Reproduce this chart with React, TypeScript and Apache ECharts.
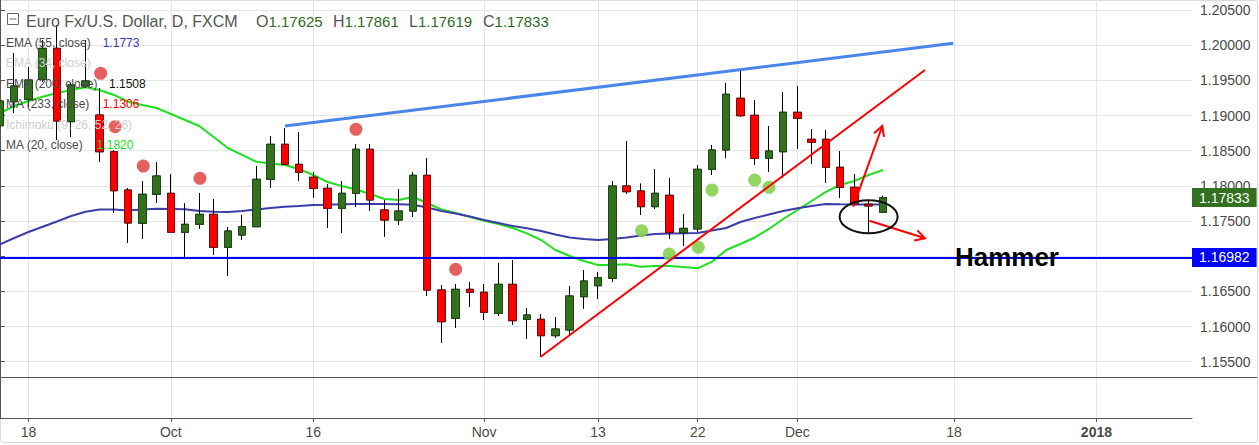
import React, { useEffect, useRef } from "react";
import * as echarts from "echarts";

// ---- Candles (index 0 = Sep 14 2017, one per trading day) ----
const opens = [
  1.18855, 1.19196, 1.19230, 1.19515, 1.19955, 1.18912, 1.19420, 1.19007, 1.18485, 1.17941,
  1.17468, 1.17880, 1.17894, 1.17340, 1.17453, 1.17595, 1.17126, 1.17301, 1.17419, 1.18093,
  1.18591, 1.18306, 1.18122, 1.17965, 1.17681, 1.17894, 1.18520, 1.17657, 1.17514, 1.17642,
  1.18150, 1.16519, 1.16117, 1.16529, 1.16487, 1.16188, 1.16600, 1.16103, 1.16103, 1.15870,
  1.15951, 1.16424, 1.16580, 1.16686, 1.17998, 1.17927, 1.17704, 1.17866, 1.17334, 1.17387,
  1.18235, 1.18510, 1.19245, 1.19003, 1.18392, 1.18485, 1.19046, 1.18662, 1.18662, 1.18264,
  1.17979, 1.17738, 1.17625,
];
const closes = [
  1.19206, 1.19420, 1.19505, 1.19955, 1.18922, 1.19434, 1.19491, 1.18485, 1.17931, 1.17472,
  1.17880, 1.18140, 1.17340, 1.17453, 1.17595, 1.17126, 1.17358, 1.17419, 1.18093, 1.18591,
  1.18306, 1.18193, 1.17965, 1.17681, 1.17894, 1.18520, 1.17799, 1.17514, 1.17642, 1.18150,
  1.16519, 1.16069, 1.16529, 1.16487, 1.16202, 1.16600, 1.16083, 1.16164, 1.15870, 1.15965,
  1.16434, 1.16647, 1.16694, 1.17998, 1.17917, 1.17704, 1.17894, 1.17340, 1.17396, 1.18235,
  1.18510, 1.19302, 1.18997, 1.18392, 1.18495, 1.19046, 1.18960, 1.18619, 1.18264, 1.17979,
  1.17742, 1.17714, 1.17833,
];
const lows = [
  1.18837, 1.19036, 1.19121, 1.19476, 1.18652, 1.18694, 1.19391, 1.18339, 1.17614, 1.17187,
  1.17244, 1.17756, 1.17330, 1.16988, 1.17387, 1.17017, 1.16718, 1.17230, 1.17415, 1.17969,
  1.18296, 1.18069, 1.17827, 1.17401, 1.17330, 1.17699, 1.17642, 1.17273, 1.17443, 1.17557,
  1.16434, 1.15766, 1.15979, 1.16278, 1.16093, 1.16150, 1.16022, 1.15823, 1.15567, 1.15837,
  1.15880, 1.16249, 1.16391, 1.16633, 1.17884, 1.17586, 1.17671, 1.17244, 1.17145, 1.17344,
  1.18154, 1.18392, 1.18979, 1.18296, 1.18197, 1.18112, 1.18524, 1.18311, 1.18041, 1.17827,
  1.17714, 1.17334, 1.17619,
];
const highs = [
  1.19220, 1.19889, 1.19690, 1.20074, 1.20287, 1.19462, 1.20074, 1.19391, 1.18510, 1.17969,
  1.18069, 1.18339, 1.18168, 1.17756, 1.17898, 1.17813, 1.17415, 1.17586, 1.18282, 1.18709,
  1.18822, 1.18766, 1.18197, 1.18026, 1.18069, 1.18595, 1.18595, 1.17799, 1.17955, 1.18197,
  1.18396, 1.16590, 1.16605, 1.16633, 1.16605, 1.16903, 1.16946, 1.16263, 1.16178, 1.16135,
  1.16576, 1.16804, 1.16775, 1.18069, 1.18638, 1.18036, 1.18240, 1.18112, 1.17600, 1.18296,
  1.18581, 1.19462, 1.19633, 1.19220, 1.18851, 1.19334, 1.19420, 1.18808, 1.18794, 1.18495,
  1.18168, 1.17789, 1.17861,
];

// ---- Indicators ----
const ma20 = [
  1.19036, 1.19135, 1.19206, 1.19267, 1.19320, 1.19363, 1.19401, 1.19363, 1.19292, 1.19196,
  1.19149, 1.19107, 1.19021, 1.18936, 1.18851, 1.18694, 1.18538, 1.18439, 1.18343, 1.18318,
  1.18296, 1.18240, 1.18154, 1.18055, 1.17998, 1.17948, 1.17884, 1.17813, 1.17799, 1.17841,
  1.17756, 1.17664, 1.17614, 1.17557, 1.17504, 1.17458, 1.17401, 1.17325, 1.17230, 1.17088,
  1.17003, 1.16932, 1.16875, 1.16875, 1.16885, 1.16851, 1.16860, 1.16860, 1.16846, 1.16828,
  1.16922, 1.17088, 1.17173, 1.17266, 1.17387, 1.17529, 1.17657, 1.17785, 1.17913, 1.18012,
  1.18069, 1.18154, 1.18225,
];
const ema55 = [
  1.17169, 1.17259, 1.17344, 1.17419, 1.17493, 1.17571, 1.17632, 1.17664, 1.17664, 1.17650,
  1.17664, 1.17675, 1.17671, 1.17667, 1.17642, 1.17632, 1.17628, 1.17642, 1.17664, 1.17685,
  1.17704, 1.17714, 1.17728, 1.17732, 1.17738, 1.17742, 1.17742, 1.17742, 1.17738, 1.17730,
  1.17692, 1.17642, 1.17607, 1.17564, 1.17514, 1.17472, 1.17429, 1.17396, 1.17358, 1.17308,
  1.17266, 1.17244, 1.17230, 1.17244, 1.17266, 1.17294, 1.17315, 1.17323, 1.17325, 1.17330,
  1.17365, 1.17401, 1.17486, 1.17543, 1.17593, 1.17642, 1.17681, 1.17714, 1.17742, 1.17738,
  1.17735, 1.17735, 1.17735,
];

// ---- Markers ----
const redDotIdx = [7.07, 8.08, 10.06, 14.04, 25, 32];
const redDotVal = [1.196, 1.18841, 1.18282, 1.18107, 1.18804, 1.16814];
const greenDotIdx = [45.06, 47, 49.04, 50, 53, 54];
const greenDotVal = [1.17362, 1.17031, 1.17126, 1.17941, 1.18083, 1.17979];

// ---- Drawings ----
const blueTrend = [[20.01, 1.18851], [66.95, 1.20027]];
const redTrend = [[37.97, 1.15571], [64.96, 1.19647]];
const arrowUp = [[59.92, 1.17704], [61.96, 1.18851]];
const arrowDown = [[61.05, 1.17504], [64.96, 1.17254]];
const hammerCircle = [61, 1.17561];
const hammerLabel = [67.06, 1.16982];
const hLineLevel = 1.16982;

// ---- Axes ----
const dateLabelIdx = [2, 12, 22, 34, 42, 49, 56, 67, 77];
const dateLabels = ["18", "Oct", "16", "Nov", "13", "22", "Dec", "18", "2018"];
const priceTicks = [1.155, 1.16, 1.165, 1.17, 1.175, 1.18, 1.185, 1.19, 1.195, 1.2, 1.205];
const xMin = 0;
const xMax = 83.71;
const yMin = 1.1528248;
const yMax = 1.2064217;

// ---- Legend ----
const titleText = "Euro Fx/U.S. Dollar, D, FXCM";
const ohlcLetters = ["O", "H", "L", "C"];
const legendNames = ["EMA (55, close)", "EMA (34, close)", "EMA (200, close)", "MA (233, close)", "Ichimoku (9, 26, 52, 26)", "MA (20, close)"];
const legendNameColors = ["#4a4a4a", "#cfcfcf", "#4a4a4a", "#4a4a4a", "#cfcfcf", "#4a4a4a"];
const legendValues = ["1.1773", "", "1.1508", "1.1306", "", "1.1820"];
const legendValueColors = ["#3b3bab", "", "#111111", "#ff0000", "", "#18dd18"];

const FONT = '"Liberation Sans", Arial, sans-serif';
const UP = "#33701f";
const DOWN = "#ff0000";

function lineItem(p1: number[], p2: number[], color: string, width: number, head: boolean) {
  const els: any[] = [
    { type: "line", shape: { x1: p1[0], y1: p1[1], x2: p2[0], y2: p2[1] }, style: { stroke: color, lineWidth: width } },
  ];
  if (head) {
    const ang = Math.atan2(p2[1] - p1[1], p2[0] - p1[0]);
    const hl = 11;
    const ha = 0.5;
    const h1 = [p2[0] - hl * Math.cos(ang - ha), p2[1] - hl * Math.sin(ang - ha)];
    const h2 = [p2[0] - hl * Math.cos(ang + ha), p2[1] - hl * Math.sin(ang + ha)];
    els.push({ type: "polyline", shape: { points: [h1, [p2[0], p2[1]], h2] }, style: { stroke: color, lineWidth: width, fill: "none" } });
  }
  return { type: "group", children: els };
}

function segSeries(seg: number[][], color: string, width: number, head: boolean) {
  return {
    type: "custom",
    xAxisIndex: 0,
    yAxisIndex: 0,
    z: 6,
    silent: true,
    data: [[seg[0][0], seg[0][1], seg[1][0], seg[1][1]]],
    renderItem: (_p: any, api: any) => {
      const a = api.coord([api.value(0), api.value(1)]);
      const b = api.coord([api.value(2), api.value(3)]);
      return lineItem(a, b, color, width, head);
    },
  };
}

export default function App() {
  const ref = useRef<HTMLDivElement>(null);
  useEffect(() => {
    const chart = echarts.init(ref.current!, null, { renderer: "svg" });
    const idx = opens.map((_, i) => i);
    const last = opens.length - 1;
    const ohlcValues = [opens[last], highs[last], lows[last], closes[last]];
    const ohlcX = [256, 333, 409, 483];

    const graphics: any[] = [
      { type: "rect", z: -10, shape: { x: 0.5, y: 0.5, width: 1257, height: 442, r: 2 }, style: { fill: "none", stroke: "#dadada", lineWidth: 1 } },
      { type: "line", z: 50, shape: { x1: 0, y1: 377.5, x2: 1257, y2: 377.5 }, style: { stroke: "#555", lineWidth: 1 } },
      { type: "rect", z: 100, shape: { x: 7.5, y: 13.5, width: 11, height: 11 }, style: { fill: "#fff", stroke: "#666", lineWidth: 1 } },
      { type: "line", z: 101, shape: { x1: 9.5, y1: 19, x2: 16.5, y2: 19 }, style: { stroke: "#666", lineWidth: 1 } },
      { type: "text", z: 100, x: 26, y: 21, style: { text: titleText, fill: "#555", font: `16px ${FONT}`, verticalAlign: "middle" } },
    ];
    ohlcLetters.forEach((l, k) => {
      graphics.push({
        type: "text", z: 100, x: ohlcX[k], y: 21,
        style: {
          text: `{l|${l}}{v|${ohlcValues[k].toFixed(5)}}`,
          verticalAlign: "middle",
          rich: {
            l: { fill: "#555", font: `16px ${FONT}` },
            v: { fill: "#2e6b26", font: `15px ${FONT}` },
          },
        },
      });
    });
    const legendValueX = [102.7, 0, 109, 102.7, 0, 96.7];
    legendNames.forEach((name, k) => {
      const y = 42.7 + k * 20.5;
      graphics.push({ type: "text", z: 100, x: 6, y, style: { text: name, fill: legendNameColors[k], font: `12px ${FONT}`, verticalAlign: "middle" } });
      if (legendValues[k]) {
        graphics.push({ type: "text", z: 100, x: legendValueX[k], y, style: { text: legendValues[k], fill: legendValueColors[k], font: `12px ${FONT}`, verticalAlign: "middle" } });
      }
    });

    const boxLabel = (val: number, bg: string) => ({
      show: true, position: "end", distance: 0, formatter: val.toFixed(5), color: "#fff",
      backgroundColor: bg, padding: [3, 7, 2, 7], fontSize: 14, fontFamily: FONT,
    });

    const option: any = {
      animation: false,
      backgroundColor: "#ffffff",
      textStyle: { fontFamily: FONT },
      grid: [
        { left: 0, top: 0, width: 1192, height: 377, containLabel: false, outerBoundsMode: "none" },
        { left: 0, top: 377, width: 1192, height: 41, containLabel: false, outerBoundsMode: "none" },
      ],
      xAxis: [
        {
          type: "value", gridIndex: 0, min: xMin, max: xMax,
          axisLine: { show: false },
          axisTick: { show: false, customValues: dateLabelIdx },
          axisLabel: { show: false, customValues: dateLabelIdx },
          splitLine: { show: true, lineStyle: { color: "#e6e6e6", width: 1 } },
        },
        {
          type: "value", gridIndex: 1, min: xMin, max: xMax,
          axisLine: { show: true, lineStyle: { color: "#555", width: 1 } },
          axisTick: { show: true, length: 4, customValues: dateLabelIdx, lineStyle: { color: "#555" } },
          axisLabel: {
            show: true,
            customValues: dateLabelIdx,
            color: "#4a4a4a",
            fontSize: 14,
            margin: 7,
            formatter: (v: number) => {
              const k = dateLabelIdx.indexOf(Math.round(v));
              if (k < 0) return "";
              const t = dateLabels[k];
              return t === "2018" ? `{b|${t}}` : t;
            },
            rich: { b: { fontWeight: "bold", fontSize: 14, color: "#4a4a4a", fontFamily: FONT } },
          },
          splitLine: { show: true, lineStyle: { color: "#e6e6e6", width: 1 } },
        },
      ],
      yAxis: [
        {
          type: "value", gridIndex: 0, position: "right", min: yMin, max: yMax,
          axisLine: { show: true, lineStyle: { color: "#555", width: 1 } },
          axisTick: { show: true, length: 5, customValues: priceTicks, lineStyle: { color: "#555" } },
          axisLabel: {
            show: true, customValues: priceTicks, color: "#4a4a4a", fontSize: 14, margin: 8,
            formatter: (v: number) => v.toFixed(5),
          },
          splitLine: { show: true, lineStyle: { color: "#e6e6e6", width: 1 } },
        },
        {
          type: "value", gridIndex: 1, position: "right", min: 0, max: 1,
          axisLine: { show: true, lineStyle: { color: "#555", width: 1 } },
          axisTick: { show: false },
          axisLabel: { show: false },
          splitLine: { show: false },
        },
      ],
      series: [
        {
          name: "MA20", type: "line", xAxisIndex: 0, yAxisIndex: 0, z: 2, silent: true,
          showSymbol: false, symbol: "none",
          data: idx.map((i) => [i, ma20[i]]),
          lineStyle: { color: "#1ee01e", width: 2 },
          markLine: {
            silent: true, symbol: ["none", "none"], animation: false, precision: 5,
            data: [
              {
                yAxis: hLineLevel,
                lineStyle: { color: "#0000ff", width: 2, type: "solid" },
                label: boxLabel(hLineLevel, "#0000ff"),
              },
            ],
          },
        },
        {
          name: "EMA55", type: "line", xAxisIndex: 0, yAxisIndex: 0, z: 2, silent: true,
          showSymbol: false, symbol: "none",
          data: idx.map((i) => [i, ema55[i]]),
          lineStyle: { color: "#3d3da8", width: 2 },
          markLine: {
            silent: true, symbol: ["none", "none"], animation: false, precision: 5,
            data: [
              {
                yAxis: closes[last],
                lineStyle: { color: "rgba(255,255,255,0)", width: 1, type: "solid" },
                label: boxLabel(closes[last], UP),
              },
            ],
          },
        },
        {
          name: "wicks", type: "candlestick", xAxisIndex: 0, yAxisIndex: 0, z: 3, silent: true,
          barWidth: 8,
          data: idx.map((i) => [i, opens[i], closes[i], lows[i], highs[i]]),
          itemStyle: { color: UP, color0: DOWN, borderColor: "#000", borderColor0: "#000", borderWidth: 1 },
        },
        {
          name: "bodies", type: "candlestick", xAxisIndex: 0, yAxisIndex: 0, z: 4, silent: true,
          barWidth: 8,
          data: idx.map((i) => [i, opens[i], closes[i], Math.min(opens[i], closes[i]), Math.max(opens[i], closes[i])]),
          itemStyle: { color: UP, color0: DOWN, borderColor: "#1c4a12", borderColor0: "#7d0c0c", borderWidth: 1 },
        },
        {
          name: "redDots", type: "scatter", xAxisIndex: 0, yAxisIndex: 0, z: 5, silent: true,
          symbolSize: 13,
          data: redDotIdx.map((x, k) => [x, redDotVal[k]]),
          itemStyle: { color: "#e34f4f", opacity: 0.9 },
        },
        {
          name: "greenDots", type: "scatter", xAxisIndex: 0, yAxisIndex: 0, z: 5, silent: true,
          symbolSize: 13,
          data: greenDotIdx.map((x, k) => [x, greenDotVal[k]]),
          itemStyle: { color: "#86d050", opacity: 0.9 },
        },
        segSeries(blueTrend, "#4a86e8", 3, false),
        segSeries(redTrend, "#ff0000", 2, false),
        segSeries(arrowUp, "#ff0000", 2, true),
        segSeries(arrowDown, "#ff0000", 2, true),
        {
          type: "custom", xAxisIndex: 0, yAxisIndex: 0, z: 6, silent: true,
          data: [hammerCircle],
          renderItem: (_p: any, api: any) => {
            const c = api.coord([api.value(0), api.value(1)]);
            return { type: "ellipse", shape: { cx: c[0], cy: c[1], rx: 29, ry: 16.5 }, style: { fill: "none", stroke: "#111", lineWidth: 2 } };
          },
        },
        {
          type: "custom", xAxisIndex: 0, yAxisIndex: 0, z: 7, silent: true,
          data: [hammerLabel],
          renderItem: (_p: any, api: any) => {
            const c = api.coord([api.value(0), api.value(1)]);
            return { type: "text", x: c[0], y: c[1], style: { text: "Hammer", fill: "#000", font: `bold 26px ${FONT}`, align: "left", verticalAlign: "middle" } };
          },
        },
        {
          type: "line", xAxisIndex: 1, yAxisIndex: 1, data: [], silent: true,
        },
      ],
      graphic: { elements: graphics },
    };
    chart.setOption(option);
    return () => chart.dispose();
  }, []);
  return <div ref={ref} style={{ position: "fixed", left: 0, top: 0, width: 1259, height: 445, background: "#fff" }} />;
}
